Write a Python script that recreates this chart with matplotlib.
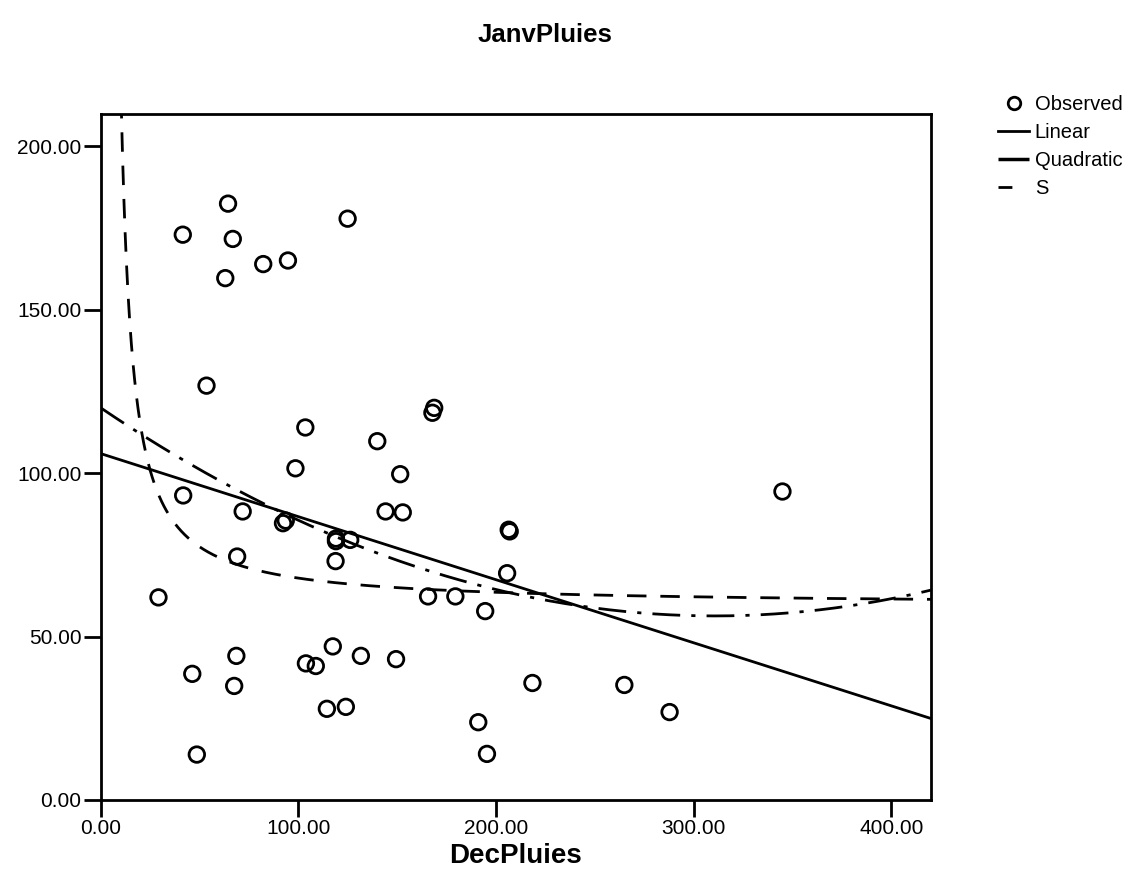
import numpy as np
import matplotlib
matplotlib.use("Agg")
import matplotlib.pyplot as plt
from matplotlib.lines import Line2D

plt.rcParams['font.family'] = ['Liberation Sans', 'DejaVu Sans']

dec_pluies = [41.5, 64.4, 66.8, 63.0, 82.2, 94.7, 124.9, 53.5, 103.5, 139.9,
              98.5, 151.5, 168.7, 167.8, 41.7, 71.8, 92.2, 93.6, 119.0, 119.0,
              126.2, 118.8, 69.0, 144.1, 152.8, 206.4, 206.9, 205.6, 29.2, 165.6,
              179.4, 194.5, 46.3, 68.6, 67.5, 48.6, 117.4, 103.8, 108.8, 131.6,
              149.4, 114.4, 124.0, 218.4, 264.9, 287.8, 191.0, 195.4, 344.9]
janv_pluies = [173.0, 182.5, 171.7, 159.7, 164.0, 165.1, 177.9, 126.8, 114.0, 109.8,
               101.5, 99.7, 120.0, 118.5, 93.2, 88.3, 84.7, 85.5, 79.2, 80.0,
               79.6, 73.1, 74.5, 88.3, 88.0, 82.7, 82.2, 69.4, 62.0, 62.3,
               62.3, 57.8, 38.6, 44.1, 34.9, 13.9, 47.0, 41.8, 41.0, 44.1,
               43.1, 27.9, 28.5, 35.8, 35.2, 26.9, 23.8, 14.1, 94.4]

# fitted curves (coefficients estimated from the drawn lines)
lin_coef = [106.0, -0.193]             # b0, b1
quad_coef = [120.0, -0.41, 0.00066]    # b0, b1, b2
s_coef = [4.086, 13.2]                 # ln(y) = b0 + b1/x

x_ticks = [0, 100, 200, 300, 400]
y_ticks = [0, 50, 100, 150, 200]

fig = plt.figure(figsize=(11.45, 8.82), dpi=100)
ax = fig.add_axes([0.088, 0.093, 0.725, 0.778])

ax.scatter(dec_pluies, janv_pluies, s=125, facecolors='none',
           edgecolors='black', linewidths=2.0, zorder=3)

xx = np.linspace(0, 420, 500)
ax.plot(xx, lin_coef[0] + lin_coef[1] * xx, color='black', lw=2.0)
ax.plot(xx, quad_coef[0] + quad_coef[1] * xx + quad_coef[2] * xx ** 2,
        color='black', lw=2.0, dashes=(10, 4, 1.5, 4))
xs = np.linspace(1, 420, 2000)
ax.plot(xs, np.exp(s_coef[0] + s_coef[1] / xs), color='black', lw=2.0,
        dashes=(7, 5))

ax.set_xlim(0, 420)
ax.set_ylim(0, 210)
ax.set_xticks(x_ticks)
ax.set_yticks(y_ticks)
ax.set_xticklabels(['%.2f' % v for v in x_ticks])
ax.set_yticklabels(['%.2f' % v for v in y_ticks])
ax.tick_params(direction='out', length=12, width=2, labelsize=15, pad=2)
for sp in ax.spines.values():
    sp.set_linewidth(2)

ax.set_xlabel('DecPluies', fontsize=20, fontweight='bold', labelpad=3)
fig.text(0.476, 0.96, 'JanvPluies', fontsize=18.5, fontweight='bold',
         ha='center', va='center')

handles = [
    Line2D([], [], marker='o', ls='none', mfc='none', mec='black', mew=2, ms=9),
    Line2D([], [], color='black', lw=2),
    Line2D([], [], color='black', lw=2.5, dashes=(10, 1)),
    Line2D([], [], color='black', lw=2, dashes=(5, 10)),
]
fig.legend(handles, ['Observed', 'Linear', 'Quadratic', 'S'],
           loc='upper left', bbox_to_anchor=(0.872, 0.892), frameon=False,
           fontsize=14.5, handlelength=1.5, handletextpad=0.3, labelspacing=0.45,
           borderaxespad=0, borderpad=0)

fig.savefig('out.png', dpi=100)
